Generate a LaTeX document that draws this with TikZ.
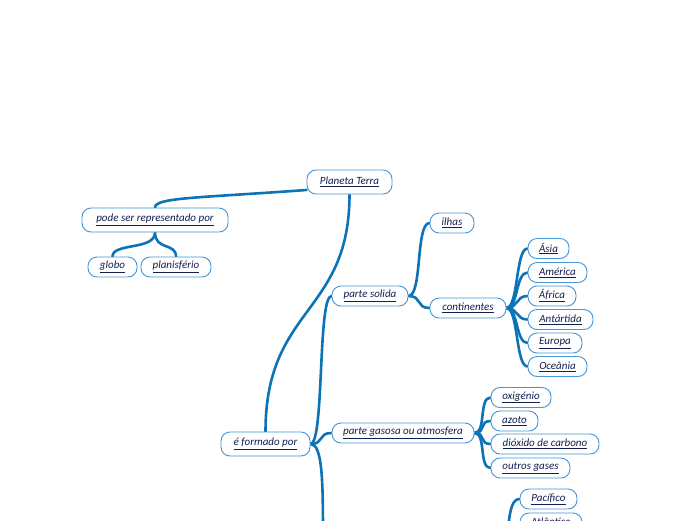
\documentclass[tikz,border=0pt]{standalone}
\usepackage{fontspec}
\setmainfont{Carlito}
\usetikzlibrary{backgrounds}
\definecolor{linkblue}{RGB}{12,115,185}
\definecolor{boxblue}{RGB}{70,150,215}
\definecolor{txtnavy}{RGB}{20,30,80}
\newcommand{\mylink}[1]{\underline{#1}}
\tikzset{
  topic/.style={draw=boxblue, line width=0.9pt, fill=white, rounded corners=9pt,
    minimum height=20pt, inner xsep=8pt, inner ysep=2pt,
    font=\fontsize{11}{13}\selectfont\itshape, text=txtnavy},
  bigtopic/.style={topic, minimum height=24pt},
  conn/.style={draw=linkblue, line width=2.6pt, line cap=round}
}
\begin{document}
\begin{tikzpicture}[x=1pt,y=-1pt]
\clip (0,0) rectangle (696,520);
% nodes
\node[bigtopic, minimum width=85pt] (pt) at (349.5,182) {\mylink{Planeta Terra}};
\node[bigtopic, minimum width=146pt] (pode) at (155,220) {\mylink{pode ser representado por}};
\node[topic, minimum width=49pt] (globo) at (112.5,267) {\mylink{globo}};
\node[topic, minimum width=70pt] (plan) at (176,267) {\mylink{planisfério}};
\node[bigtopic, minimum width=89pt] (form) at (265.5,444) {\mylink{é formado por}};
\node[topic, minimum width=76pt] (solida) at (370,296) {\mylink{parte solida}};
\node[topic, minimum width=44pt] (ilhas) at (452,223) {\mylink{ilhas}};
\node[topic, minimum width=76pt] (cont) at (468,308) {\mylink{continentes}};
\node[topic, minimum width=41pt] (asia) at (548.5,248.5) {\mylink{Ásia}};
\node[topic, minimum width=59pt] (amer) at (557.5,272.5) {\mylink{América}};
\node[topic, minimum width=48pt] (afr) at (552,296) {\mylink{África}};
\node[topic, minimum width=65pt] (antar) at (560.5,319.5) {\mylink{Antártida}};
\node[topic, minimum width=54pt] (eur) at (555,343) {\mylink{Europa}};
\node[topic, minimum width=59pt] (oce) at (557.5,366.5) {\mylink{Oceânia}};
\node[topic, minimum width=142pt] (gas) at (403,433) {\mylink{parte gasosa ou atmosfera}};
\node[topic, minimum width=60pt] (oxi) at (521,397.5) {\mylink{oxigénio}};
\node[topic, minimum width=47pt] (azo) at (514.5,421) {\mylink{azoto}};
\node[topic, minimum width=108pt] (diox) at (545,444) {\mylink{dióxido de carbono}};
\node[topic, minimum width=79pt] (outros) at (530.5,468) {\mylink{outros gases}};
\node[topic, minimum width=57pt] (paci) at (548.5,499) {\mylink{Pacífico}};
\node[topic, minimum width=62pt] (atl) at (551,523) {\mylink{Atlântico}};
\coordinate (offA) at (323,540);
\coordinate (offB) at (503,600);
% background and connectors behind the nodes
\begin{pgfonlayer}{background}
\clip (0,0) rectangle (696,520);
\fill[white] (0,0) rectangle (696,520);
\begin{scope}[conn]
\draw ([yshift=-8pt]pt.west) .. controls +(-110,8) and +(0,-10) .. (pode.north);
\draw (pt.south) .. controls +(0,120) and +(0,-125) .. (form.north);
\draw (pode.south) .. controls +(0,18) and +(0,-14) .. (globo.north);
\draw (pode.south) .. controls +(0,18) and +(0,-14) .. (plan.north);
\draw (form.east) .. controls +(14,0) and +(-14,0) .. (solida.west);
\draw (form.east) .. controls +(14,0) and +(-14,0) .. (gas.west);
\draw (form.east) .. controls +(12,0) and +(0,-60) .. (offA);
\draw (solida.east) .. controls +(14,0) and +(-14,0) .. (ilhas.west);
\draw (solida.east) .. controls +(14,0) and +(-14,0) .. (cont.west);
\foreach \n in {asia,amer,afr,antar,eur,oce}
  \draw (cont.east) .. controls +(12,0) and +(-12,0) .. (\n.west);
\foreach \n in {oxi,azo,diox,outros}
  \draw (gas.east) .. controls +(12,0) and +(-12,0) .. (\n.west);
\draw (offB) .. controls +(6,-60) and +(-14,0) .. (paci.west);
\draw (offB) .. controls +(6,-40) and +(-14,0) .. (atl.west);
\end{scope}
\end{pgfonlayer}
\end{tikzpicture}
\end{document}
